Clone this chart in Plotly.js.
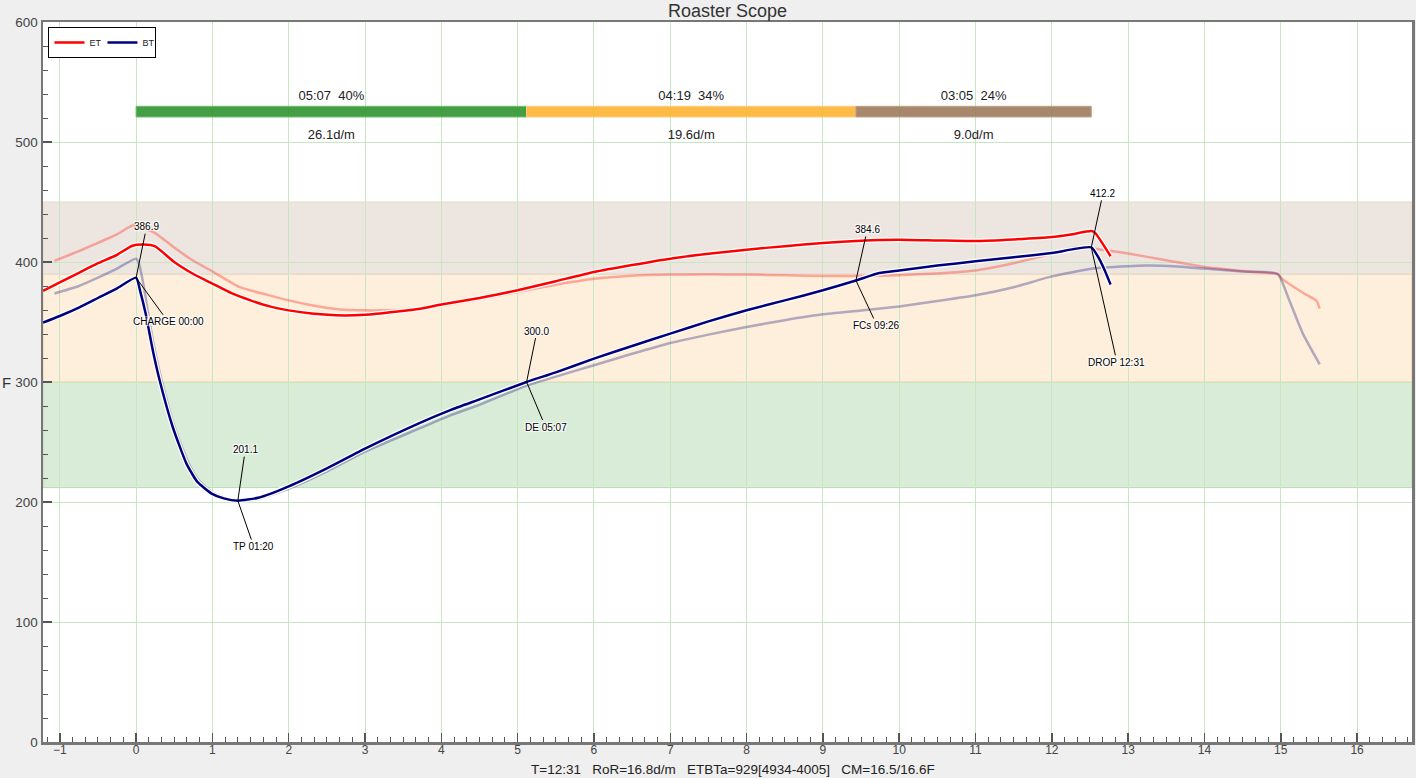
<!DOCTYPE html>
<html>
<head>
<meta charset="utf-8">
<script src="https://cdn.plot.ly/plotly-3.0.1.min.js"></script>
<style>html,body{margin:0;padding:0;background:#efefef;}#chart{width:1416px;height:778px;}</style>
</head>
<body>
<div id="chart"></div>
<script>
// ---- data ----
const etTime = [-1.22,-1.0,-0.75,-0.5,-0.25,-0.05,0.1,0.25,0.5,0.75,1.0,1.25,1.5,1.75,2.0,2.3,2.62,3.0,3.4,3.72,4.0,4.5,5.0,5.5,6.0,6.5,7.0,7.5,8.0,8.5,9.0,9.5,10.0,10.5,11.0,11.5,12.0,12.25,12.52,12.57,12.77];
const etTemp = [376,383,391,399,406,413.5,414.5,413,400,390,382,374,368,363,359.7,357,355.6,356,358.5,361,364.5,370,376.4,384,391.7,397.5,402.8,406.8,410.3,413.2,415.9,417.8,418.6,418,417.5,418.8,420.8,423,425.8,424,404.8];

const btTime = [-1.22,-1.0,-0.75,-0.5,-0.25,0,0.06,0.125,0.22,0.31,0.48,0.66,0.8,0.99,1.15,1.333,1.6,2.0,2.5,3.0,3.72,4.11,4.5,5.117,5.5,6.0,6.5,7.0,7.5,8.0,8.5,9.0,9.433,9.74,10.0,10.5,11.0,11.5,12.0,12.517,12.6,12.68,12.77];
const btTemp = [349.5,355,362,370,378,386.9,374,357,326,301,262.5,232,217,207,203,201.1,203.5,213,228,244.5,266,276.4,285.5,300,308,319.5,330,340.3,350.5,359.8,368,376.4,384.6,390.8,393,397,400.6,404,407.5,412.2,405,395,381.2];

const bgEtTime = [-1.07,-0.75,-0.5,-0.25,-0.04,0.1,0.26,0.5,0.75,0.99,1.36,1.7,2.0,2.3,2.67,3.0,3.4,3.72,4.0,4.5,5.0,5.5,6.0,6.5,7.0,7.5,8.0,8.5,9.0,9.5,10.0,10.5,11.0,11.5,12.0,12.32,12.56,13.0,13.5,14.0,14.5,14.96,15.03,15.3,15.47,15.51];
const bgEtTemp = [401,409,416,423,430.6,428,423.7,412,401,392.5,379,373,368,364,360.5,359.7,360,361,363.5,369,375,381,386,388.5,389.5,389.7,389.5,389,388.3,388.3,389,390.5,393,399,407,412.5,411,407,401.5,395.8,392.5,389.8,385.3,374,367.5,361.2];

const bgBtTime = [-1.07,-0.75,-0.5,-0.25,0.0,0.04,0.1,0.16,0.25,0.34,0.5,0.69,0.82,1.0,1.18,1.36,1.6,2.0,2.5,3.0,3.72,4.11,4.5,5.117,5.5,6.0,6.5,7.0,7.5,8.0,8.5,9.0,9.5,10.0,10.5,11.0,11.5,12.0,12.54,12.99,13.24,13.6,13.99,14.5,14.96,15.1,15.29,15.51];
const bgBtTemp = [373.7,380,387,394.5,402.8,398,380,356,325,300,263,232,218,208,203,201,202.5,211,225.5,242,261.5,272,281,297,304.5,314,323.5,332.5,339.5,345.8,351.5,356.4,359.5,363,367.5,372.25,379,388,394.5,396.4,397,396.5,394.5,392,390,370,340.3,314.75];

// events
const eventNames = ['CHARGE','TP','DE','FCs','DROP'];
const eventTimes = [0, 1.333, 5.117, 9.433, 12.517];
const eventTemps = [386.9, 201.1, 300.0, 384.6, 412.2];
const eventClock = ['00:00','01:20','05:07','09:26','12:31'];

// phases
const phaseStarts = [0, 5.117, 9.433];
const phaseEnds = [5.117, 9.433, 12.517];
const phaseLabels = ['05:07  40%','04:19  34%','03:05  24%'];
const phaseRates = ['26.1d/m','19.6d/m','9.0d/m'];

// background bands
const bandLows = [212, 300, 390];
const bandHighs = [300, 390, 450];

const statusText = 'T=12:31   RoR=16.8d/m   ETBTa=929[4934-4005]   CM=16.5/16.6F';

// ---- styles ----
const FONT = 'Liberation Sans, Arial, sans-serif';
const phaseColors = ['rgba(52,150,52,0.92)','rgba(253,180,55,0.92)','rgba(160,126,96,0.92)'];
const phaseLines = ['rgba(110,190,110,1)','rgba(255,205,120,1)','rgba(190,160,135,1)'];
const bandFill = ['#d9ecd8','#fdefdb','#ede6e0'];
const bandEdge = ['#b9dcb5','#f0cf9c','#e3d8cc'];
const topOffsets = [[10.5,-51],[7.5,-51],[10.4,-51],[11.4,-51],[11.7,-54]];
const botOffsets = [[32,44],[16,46],[19,45],[21,45],[25.7,115]];
const SM = 0.5;

const traces = [];
traces.push({x:bgEtTime,y:bgEtTemp,type:'scatter',mode:'lines',line:{color:'rgba(255,40,30,0.36)',width:2.5,shape:'spline',smoothing:SM},showlegend:false,hoverinfo:'skip'});
traces.push({x:bgBtTime,y:bgBtTemp,type:'scatter',mode:'lines',line:{color:'rgba(20,20,120,0.32)',width:2.5,shape:'spline',smoothing:SM},showlegend:false,hoverinfo:'skip'});
traces.push({x:etTime,y:etTemp,type:'scatter',mode:'lines',line:{color:'#ffffff',width:5,shape:'spline',smoothing:SM},showlegend:false,hoverinfo:'skip'});
traces.push({x:btTime,y:btTemp,type:'scatter',mode:'lines',line:{color:'#ffffff',width:5,shape:'spline',smoothing:SM},showlegend:false,hoverinfo:'skip'});
traces.push({x:etTime,y:etTemp,type:'scatter',mode:'lines',name:'ET',line:{color:'#ff0000',width:2.5,shape:'spline',smoothing:SM}});
traces.push({x:btTime,y:btTemp,type:'scatter',mode:'lines',name:'BT',line:{color:'#00007f',width:2.5,shape:'spline',smoothing:SM}});

// phase bar
traces.push({
  type:'bar', orientation:'h',
  y: phaseStarts.map(()=>525.3),
  x: phaseEnds.map((e,i)=>e-phaseStarts[i]),
  base: phaseStarts,
  width: 8.9,
  marker:{color:phaseColors, line:{color:phaseLines, width:1}},
  showlegend:false, hoverinfo:'skip'
});
traces.push({
  type:'scatter', mode:'text',
  x: phaseStarts.map((s,i)=>(s+phaseEnds[i])/2),
  y: phaseStarts.map(()=>538),
  text: phaseLabels, textfont:{size:13,color:'#222',family:FONT},
  showlegend:false, hoverinfo:'skip'
});
traces.push({
  type:'scatter', mode:'text',
  x: phaseStarts.map((s,i)=>(s+phaseEnds[i])/2),
  y: phaseStarts.map(()=>505.6),
  text: phaseRates, textfont:{size:13,color:'#222',family:FONT},
  showlegend:false, hoverinfo:'skip'
});

const shapes = bandLows.map((lo,i)=>({
  type:'rect', xref:'paper', yref:'y', x0:0, x1:1, y0:lo, y1:bandHighs[i],
  fillcolor:bandFill[i], line:{color:bandEdge[i],width:1}, layer:'below'
}));

const halo = '1px 1px 1px #fff, -1px -1px 1px #fff, 1px -1px 1px #fff, -1px 1px 1px #fff';
const annotations = [];
eventNames.forEach((n,i)=>{
  annotations.push({x:eventTimes[i], y:eventTemps[i], xref:'x', yref:'y',
    text:eventTemps[i].toFixed(1), showarrow:true, arrowhead:0, arrowwidth:1, arrowcolor:'#000',
    ax:topOffsets[i][0], ay:topOffsets[i][1], font:{size:10,color:'#000',family:FONT,shadow:halo}});
  annotations.push({x:eventTimes[i], y:eventTemps[i], xref:'x', yref:'y',
    text:n+' '+eventClock[i], showarrow:true, arrowhead:0, arrowwidth:1, arrowcolor:'#000',
    ax:botOffsets[i][0], ay:botOffsets[i][1], font:{size:10,color:'#000',family:FONT,shadow:halo}});
});
annotations.push({xref:'paper', yref:'paper', x:0.504, y:-0.0375, xanchor:'center', yanchor:'middle',
  text:statusText, showarrow:false, font:{size:13.5,color:'#222',family:FONT}});
annotations.push({xref:'paper', yref:'paper', x:-0.027, y:0.5, xanchor:'center', yanchor:'middle',
  text:'F', showarrow:false, font:{size:15,color:'#333',family:FONT}});

const layout = {
  width:1416, height:778,
  paper_bgcolor:'#efefef', plot_bgcolor:'#ffffff',
  margin:{l:43,r:4,t:22,b:36},
  title:{text:'Roaster Scope', font:{size:18,color:'#333',family:FONT}, x:0.5, xref:'paper', y:0.986, yanchor:'middle'},
  showlegend:true,
  legend:{x:0.004, y:0.993, xanchor:'left', yanchor:'top', orientation:'h', bgcolor:'#fff',
    bordercolor:'#000', borderwidth:1, font:{size:9,color:'#222',family:FONT}, itemwidth:30,
    entrywidth:8, entrywidthmode:'pixels', tracegroupgap:0},
  xaxis:{range:[-1.22,16.72], tick0:0, dtick:1, ticks:'inside', ticklen:9, tickwidth:1.5, tickcolor:'#555',
    showline:true, linecolor:'#777', linewidth:2.5, mirror:true, showgrid:true, gridcolor:'#c9e6c3', gridwidth:1,
    zeroline:false, tickfont:{size:12,color:'#444',family:FONT}, ticklabelstandoff:-5,
    minor:{dtick:1/6, tick0:0, ticks:'inside', ticklen:5, tickwidth:1, tickcolor:'#555', showgrid:false}},
  yaxis:{range:[0,600], tick0:0, dtick:100, ticks:'inside', ticklen:9, tickwidth:1.5, tickcolor:'#555',
    showline:true, linecolor:'#777', linewidth:2.5, mirror:true, showgrid:true, gridcolor:'#c9e6c3', gridwidth:1,
    zeroline:false, tickfont:{size:13.5,color:'#444',family:FONT},
    minor:{dtick:20, tick0:0, ticks:'inside', ticklen:5, tickwidth:1, tickcolor:'#555', showgrid:false}},
  barmode:'overlay',
  shapes:shapes,
  annotations:annotations
};

Plotly.newPlot('chart', traces, layout, {displayModeBar:false, staticPlot:true});
</script>
</body>
</html>
